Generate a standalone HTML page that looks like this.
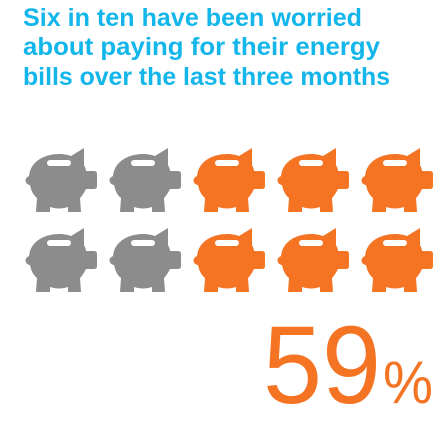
<!DOCTYPE html>
<html><head><meta charset="utf-8"><style>
html,body{margin:0;padding:0;background:#fff;width:446px;height:426px;overflow:hidden}
</style></head><body>
<svg id="chart" width="446" height="426" viewBox="0 0 446 426" xmlns="http://www.w3.org/2000/svg" font-family="Liberation Sans, sans-serif">
<g fill="#12b6ea" font-weight="bold" font-size="25">
<text x="23" y="26" textLength="339" lengthAdjust="spacingAndGlyphs">Six in ten have been worried</text>
<text x="23" y="55" textLength="357" lengthAdjust="spacingAndGlyphs">about  paying for their energy</text>
<text x="23" y="85" textLength="367" lengthAdjust="spacingAndGlyphs">bills over the last three months</text>
</g>
<defs>
<g id="pig">
<path d="M5,30 C5,14 20,6 35,6 C40,6 44,7 47,8 L60,0 L60,17 C61,19 62,21 62,23 L70,23 Q73,23 73,26 L73,38 Q73,41 70,41 L62,41 C60,45 58,48 56,50 L57,64 L44,64 L44,59 C38,61 32,61 26,59 L26,64 L12,64 L13,50 C9,47 7,42 6,37 A4,4 0 0 1 6,28 Z"/>
<rect x="23" y="12" width="24" height="6" rx="3" fill="#fff"/>
</g>
</defs>
<g id="pigs"></g>
<g fill="#f47424">
<text id="pct" x="263" y="403" font-size="110" textLength="118" lengthAdjust="spacingAndGlyphs">59</text>
<text x="383" y="403" font-size="60" textLength="50" lengthAdjust="spacingAndGlyphs">%</text>
</g>
</svg>
<script>
const totalPigs = 10;
const percent = 59;
const highlighted = [false, false, true, true, true];
const cols = 5;
const g = document.getElementById('pigs');
for (let i = 0; i < totalPigs; i++) {
  const c = i % cols, r = Math.floor(i / cols);
  const u = document.createElementNS('http://www.w3.org/2000/svg', 'use');
  u.setAttribute('href', '#pig');
  u.setAttribute('x', 24 + c * 84);
  u.setAttribute('y', 148 + r * 80);
  u.setAttribute('fill', highlighted[c] ? '#f47424' : '#8c8c8c');
  
  
  g.appendChild(u);
}
document.getElementById('pct').textContent = percent;
</script>
</body></html>
